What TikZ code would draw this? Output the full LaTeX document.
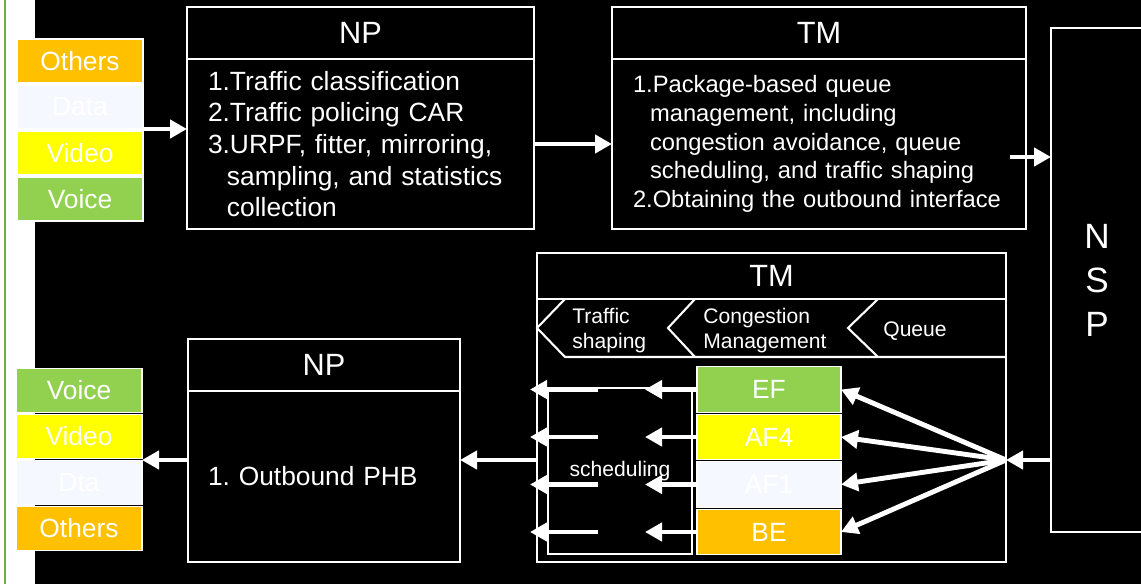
\documentclass[tikz,border=0pt]{standalone}
\usepackage{fontspec}
\setmainfont{Liberation Sans}
\usetikzlibrary{positioning,arrows.meta}

\definecolor{qosgreen}{RGB}{146,208,80}
\definecolor{qosyellow}{RGB}{255,255,0}
\definecolor{qosorange}{RGB}{255,192,0}
\definecolor{qospale}{RGB}{245,249,255}
\definecolor{edgegreen}{RGB}{112,173,71}

\newcommand{\itemcont}{\hspace*{0.72em}}
\frenchspacing

\tikzset{
    blk/.style={draw=white, line width=1.2pt, fill=black, text=white, outer sep=0pt, inner sep=0pt},
    head/.style={blk, minimum height=1.04cm, font=\fontsize{17.5}{21}\selectfont},
    cell/.style={draw=white, line width=0.8pt, text=white, outer sep=0pt,
        minimum width=2.52cm, minimum height=0.88cm, font=\fontsize{15}{18}\selectfont},
    queue/.style={cell, minimum width=2.88cm, minimum height=0.91cm},
    lbl/.style={text=white, align=left, inner sep=0pt, anchor=west, font=\fontsize{12}{14.2}\selectfont},
    flow/.style={white, line width=2.8pt, -{Triangle[length=3.4mm, width=3.6mm]}}
}

\begin{document}
\begin{tikzpicture}
\useasboundingbox (0,0) rectangle (22.82,11.68);
% фон
\fill[white] (0,0) rectangle (0.7,11.68);
\fill[black] (0.7,0) rectangle (22.82,11.68);
\draw[edgegreen, line width=1.2pt] (0.1,0) -- (0.1,11.68);

% входящий трафик
\node[cell, fill=qosorange] (othersin) at (1.60,10.46) {Others};
\node[cell, fill=qospale, below=0.04cm of othersin] (datain) {Data};
\node[cell, fill=qosyellow, below=0.04cm of datain] (videoin) {Video};
\node[cell, fill=qosgreen, below=0.04cm of videoin] (voicein) {Voice};

\node[head, minimum width=6.94cm] (npinhead) at (7.21,11.02) {NP};
\node[blk, minimum width=6.94cm, minimum height=3.4cm, text width=6.10cm, align=left,
    font=\fontsize{15}{18}\selectfont, below=0pt of npinhead] (npin)
    {1.Traffic classification\\2.Traffic policing CAR\\3.URPF, fitter, mirroring,\\
     \itemcont sampling, and statistics\\\itemcont collection};

\node[head, minimum width=8.28cm] (tminhead) at (16.38,11.02) {TM};
\node[blk, minimum width=8.28cm, minimum height=3.4cm, text width=7.44cm, align=left,
    font=\fontsize{13.5}{16.4}\selectfont, below=0pt of tminhead] (tmin)
    {1.Package-based queue\\\itemcont management, including\\\itemcont congestion avoidance, queue\\
     \itemcont scheduling, and traffic shaping\\2.Obtaining the outbound interface};

\node[blk, minimum width=1.84cm, minimum height=10.08cm, align=center,
    font=\fontsize{20}{25}\selectfont] (nsp) at (21.94,6.08) {N\\S\\P};

\draw[flow] (datain.south east) -- (datain.south east -| npin.west);
\draw[flow] (npin.east) -- (tmin.west);
\coordinate (tmexit) at (20.20,8.54);
\draw[flow] (tmexit) -- (tmexit -| nsp.west);

% исходящий TM
\node[head, minimum width=9.38cm, minimum height=0.92cm] (tmouthead) at (15.43,6.16) {TM};
\node[blk, minimum width=9.38cm, minimum height=5.26cm, below=0pt of tmouthead] (tmout) {};
\draw[white, line width=1.2pt] (11.30,5.70) -- (10.74,5.12) -- (11.30,4.54) -- (20.12,4.54);
\draw[white, line width=1.2pt] (13.90,5.70) -- (13.36,5.12) -- (13.90,4.54);
\draw[white, line width=1.2pt] (17.56,5.70) -- (16.96,5.12) -- (17.56,4.54);
\node[lbl] (shaping) at (11.44,5.07) {Traffic\\shaping};
\node[lbl] (congestion) at (14.06,5.07) {Congestion\\Management};
\node[lbl] (queuelbl) at (17.66,5.06) {Queue};

\node[queue, fill=qosgreen] (ef) at (15.38,3.89) {EF};
\node[queue, fill=qosyellow, below=0.04cm of ef] (af4) {AF4};
\node[queue, fill=qospale, below=0.04cm of af4] (af1) {AF1};
\node[queue, fill=qosorange, below=0.04cm of af1] (be) {BE};

\node[draw=white, line width=1.2pt, minimum width=2.88cm, minimum height=3.32cm, text=white,
    font=\fontsize{12}{14}\selectfont] (sched) at (12.40,2.26) {scheduling};

\coordinate (fan) at (20.12,2.48);
\coordinate (tipcol) at (12.90,0);
\coordinate (outstart) at (11.96,0);
\coordinate (outend) at (10.60,0);

\draw[flow] (nsp.west |- fan) -- (fan);
\draw[flow] (fan) -- (ef.east);
\draw[flow] (fan) -- (af4.east);
\draw[flow] (fan) -- (af1.east);
\draw[flow] (fan) -- (be.east);

\draw[flow] (ef.west) -- (ef.west -| tipcol);
\draw[flow] (af4.west) -- (af4.west -| tipcol);
\draw[flow] (af1.west) -- (af1.west -| tipcol);
\draw[flow] (be.west) -- (be.west -| tipcol);
\draw[flow] (ef.west -| outstart) -- (ef.west -| outend);
\draw[flow] (af4.west -| outstart) -- (af4.west -| outend);
\draw[flow] (af1.west -| outstart) -- (af1.west -| outend);
\draw[flow] (be.west -| outstart) -- (be.west -| outend);

% исходящий NP
\node[head, minimum width=5.44cm] (npouthead) at (6.48,4.38) {NP};
\node[blk, minimum width=5.44cm, minimum height=3.42cm, text width=4.64cm, align=left,
    font=\fontsize{15}{18}\selectfont, below=0pt of npouthead] (npout) {1. Outbound PHB};

\node[cell, fill=qosgreen] (voiceout) at (1.58,3.87) {Voice};
\node[cell, fill=qosyellow, below=0.04cm of voiceout] (videoout) {Video};
\node[cell, fill=qospale, below=0.04cm of videoout] (dtaout) {Dta};
\node[cell, fill=qosorange, below=0.04cm of dtaout] (othersout) {Others};

\draw[flow] (tmout.west |- fan) -- (npout.east |- fan);
\draw[flow] (npout.west |- fan) -- (fan -| videoout.east);
\end{tikzpicture}
\end{document}
